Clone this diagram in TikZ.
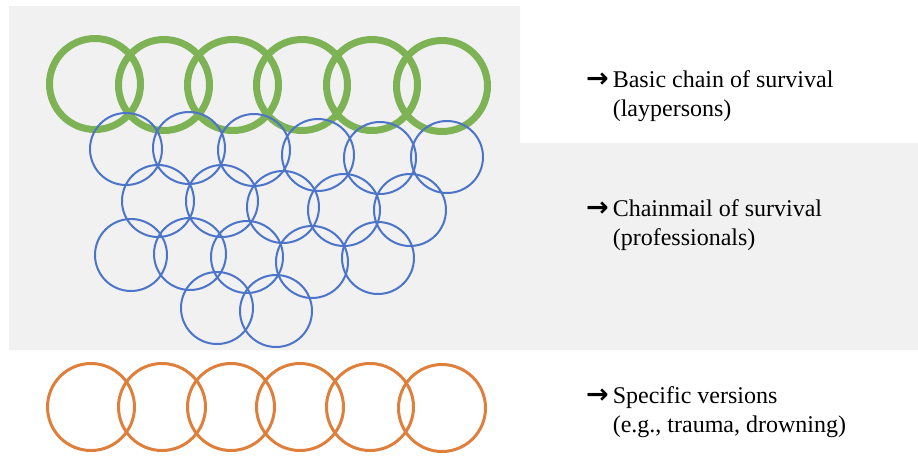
\documentclass[tikz,border=0pt]{standalone}
\usepackage{fontspec}
\setmainfont{Liberation Serif}
\newfontfamily\arrfont{DejaVu Sans}
\usepackage{tikz}
\usetikzlibrary{positioning}

\definecolor{ringgreen}{RGB}{125,178,85}
\definecolor{ringblue}{RGB}{76,116,201}
\definecolor{ringorange}{RGB}{222,127,60}
\definecolor{panel}{RGB}{241,241,241}

\newcommand{\arr}{{\arrfont\bfseries\fontsize{27pt}{26pt}\selectfont →}}

\begin{document}
\begin{tikzpicture}[x=1pt,y=-1pt,
	ring/.style={circle,draw,inner sep=0pt,outer sep=0pt},
	grn/.style={ring,draw=ringgreen,line width=7pt,minimum size=91pt},
	blu/.style={ring,draw=ringblue,line width=2pt,minimum size=72pt},
	org/.style={ring,draw=ringorange,line width=3pt,minimum size=87pt},
	lbl/.style={anchor=north west,inner sep=0pt,font=\fontsize{24pt}{28.8pt}\selectfont}]
				\useasboundingbox (0,0) rectangle (918,456);
				\fill[panel] (9,6) -- (520,6) -- (520,143) -- (918,143) -- (918,350) -- (9,350) -- cycle;
				
				% basic chain
				\node[grn] (g1) at (95,84) {};
				\node[grn] (g2) at (164,85) {};
				\node[grn] (g3) at (233,85) {};
				\node[grn] (g4) at (302,85) {};
				\node[grn] (g5) at (372,85) {};
				\node[grn] (g6) at (442,86) {};
				
				% chainmail
				\node[blu] (m1) at (126,149) {};
				\node[blu] (m2) at (189,148) {};
				\node[blu] (m3) at (254,150) {};
				\node[blu] (m4) at (318,155) {};
				\node[blu] (m5) at (380,158) {};
				\node[blu] (m6) at (447,157) {};
				\node[blu] (m7) at (158,201) {};
				\node[blu] (m8) at (222,201) {};
				\node[blu] (m9) at (283,207) {};
				\node[blu] (m10) at (344,210) {};
				\node[blu] (m11) at (410,210) {};
				\node[blu] (m12) at (131,255) {};
				\node[blu] (m13) at (190,254) {};
				\node[blu] (m14) at (247,257) {};
				\node[blu] (m15) at (312,262) {};
				\node[blu] (m16) at (378,258) {};
				\node[blu] (m17) at (217,308) {};
				\node[blu] (m18) at (276,311) {};
				
				% specific versions
				\node[org] (o1) at (91,407) {};
				\node[org] (o2) at (162,407) {};
				\node[org] (o3) at (231,407) {};
				\node[org] (o4) at (300,407) {};
				\node[org] (o5) at (370,407) {};
				\node[org] (o6) at (442,408) {};
				
				\node[lbl] (t1) at (586,67) {\begin{tabular}{@{}l@{\,}l@{}}\arr&Basic chain of survival\\&(laypersons)\end{tabular}};
				\node[lbl] (t2) at (586,196) {\begin{tabular}{@{}l@{\,}l@{}}\arr&Chainmail of survival\\&(professionals)\end{tabular}};
				\node[lbl] (t3) at (586,383) {\begin{tabular}{@{}l@{\,}l@{}}\arr&Specific versions\\&(e.g., trauma, drowning)\end{tabular}};
			\end{tikzpicture}
\end{document}
